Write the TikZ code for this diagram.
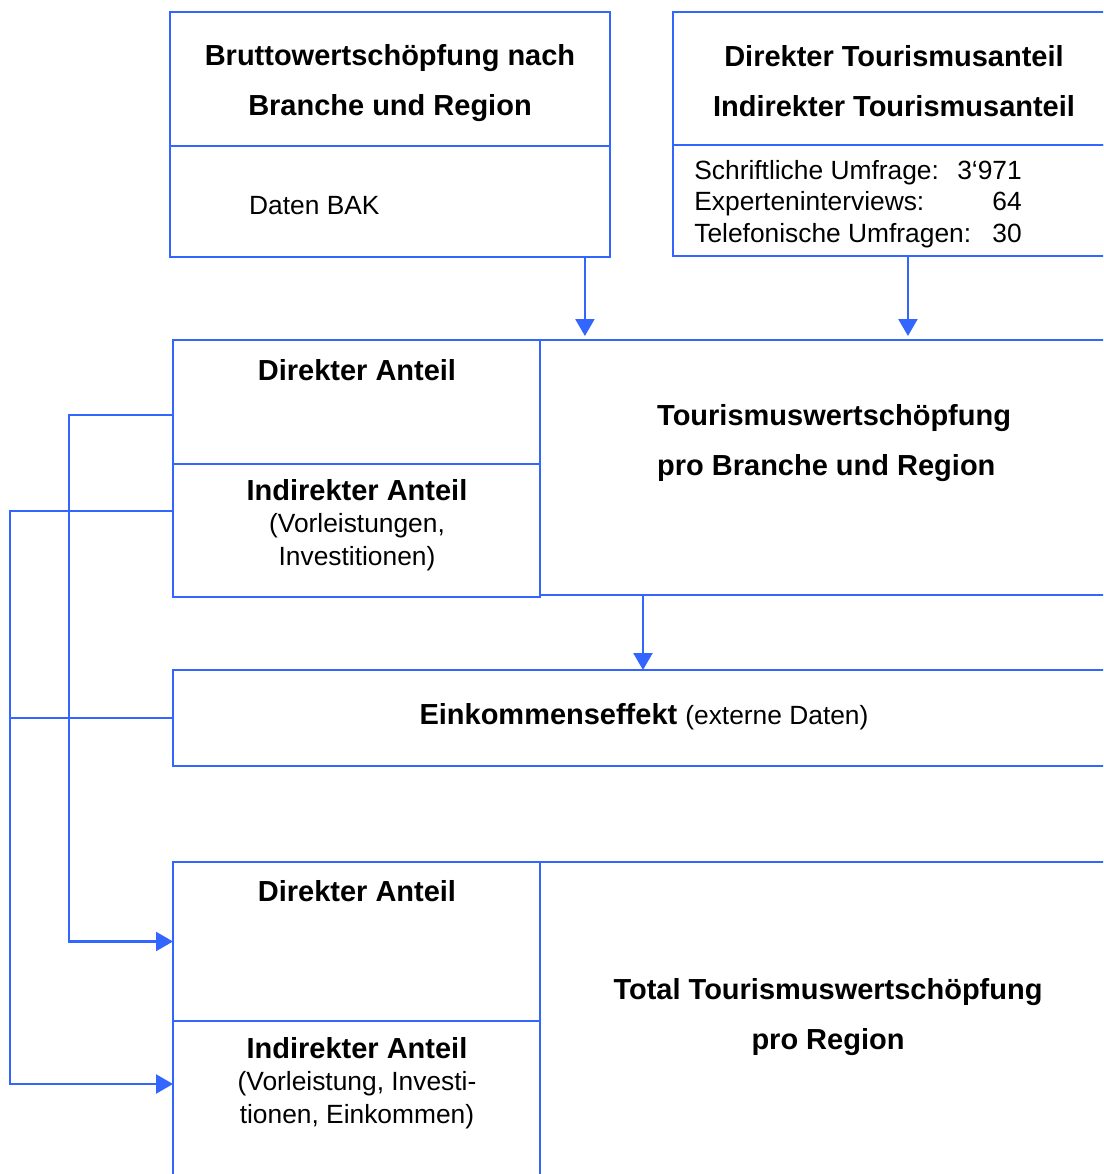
\documentclass[tikz,border=0pt]{standalone}
\usepackage{fontspec}
\setmainfont{Liberation Sans}
\usetikzlibrary{arrows.meta}
\definecolor{flowblue}{RGB}{51,102,255}
\begin{document}
\begin{tikzpicture}[x=0.02cm,y=-0.02cm,>={Triangle[length=3.4mm,width=3.8mm]},
  box/.style={draw=flowblue,line width=1.3pt,anchor=north west,inner sep=0pt,outer sep=0pt},
  arr/.style={flowblue,line width=1.3pt},
  head/.style={font=\fontsize{16.5}{28.5}\selectfont\bfseries,align=center},
  body/.style={font=\fontsize{15}{17.8}\selectfont,align=left},
  part/.style={font=\fontsize{15}{18.6}\selectfont,align=center,anchor=north}]
\useasboundingbox (0,0) rectangle (1103,1174);
\clip (0,0) rectangle (1103,1174);
\node[box,minimum width=8.8cm,minimum height=2.68cm] (brutto) at (170,12) {};
\node[box,minimum width=8.8cm,minimum height=2.22cm] (bak) at (170,146) {};
\node[box,minimum width=9.54cm,minimum height=2.66cm] (anteil) at (673,12) {};
\node[box,minimum width=9.54cm,minimum height=2.22cm] (umfrage) at (673,145) {};
\node[box,minimum width=7.34cm,minimum height=2.48cm] (dir1) at (173,340) {};
\node[box,minimum width=7.34cm,minimum height=2.66cm] (ind1) at (173,464) {};
\node[box,minimum width=12.2cm,minimum height=5.1cm] (tws) at (540,340) {};
\node[box,minimum width=19.54cm,minimum height=1.92cm] (eink) at (173,670) {};
\node[box,minimum width=7.34cm,minimum height=3.18cm] (dir2) at (173,862) {};
\node[box,minimum width=7.34cm,minimum height=4cm] (ind2) at (173,1021) {};
\node[box,minimum width=12.2cm,minimum height=7.18cm] (total) at (540,862) {};
\node[head] (bruttoT) at (390,83) {Bruttowertschöpfung nach\\Branche und Region};
\node[body,anchor=west] (bakT) at (243,206) {Daten BAK};
\node[head] (anteilT) at (894,81) {Direkter Tourismusanteil\\Indirekter Tourismusanteil};
\node[body,anchor=north west,inner sep=0pt] (umfrageT) at (694,160) {%
  \hbox to 6.55cm{Schriftliche Umfrage:\hfill 3‘971}\\
  \hbox to 6.55cm{Experteninterviews:\hfill 64}\\
  \hbox to 6.55cm{Telefonische Umfragen:\hfill 30}};
\node[head] (dir1T) at (357,370) {Direkter Anteil};
\node[part] (ind1T) at (357,473) {\textbf{\fontsize{16.5}{18.6}\selectfont Indirekter Anteil}\\(Vorleistungen,\\Investitionen)};
\node[head,align=left,anchor=west] (twsT) at (651,443) {Tourismuswertschöpfung\\pro Branche und Region};
\node (einkT) at (644,717) {\fontsize{16.5}{18}\selectfont\textbf{Einkommenseffekt} \fontsize{15}{18}\selectfont(externe Daten)};
\node[head] (dir2T) at (357,891) {Direkter Anteil};
\node[part] (ind2T) at (357,1031) {\textbf{\fontsize{16.5}{18.6}\selectfont Indirekter Anteil}\\(Vorleistung, Investi-\\tionen, Einkommen)};
\node[head] (totalT) at (828,1017) {Total Tourismuswertschöpfung\\pro Region};
\coordinate (bus1) at (69,0);
\coordinate (bus2) at (10,0);
\coordinate (in2) at ([yshift=0.74cm]ind2.west);
\draw[arr,->] ([xshift=-0.5cm]bak.south east) -- ([xshift=-0.5cm,yshift=0.08cm]bak.south east |- tws.north);
\draw[arr,->] ([xshift=4.7cm]umfrage.south west) -- ([xshift=4.7cm,yshift=0.08cm]umfrage.south west |- tws.north);
\draw[arr,->] ([xshift=2.06cm]tws.south west) -- ([xshift=2.06cm]tws.south west |- eink.north);
\draw[arr,->] ([yshift=-0.26cm]dir1.west) -| (bus1 |- dir2.west) -- (dir2.west);
\draw[arr,->] ([yshift=0.39cm]ind1.west) -| (bus2 |- in2) -- (in2);
\draw[arr] (eink.west) -- (bus2 |- eink.west);
\end{tikzpicture}
\end{document}
